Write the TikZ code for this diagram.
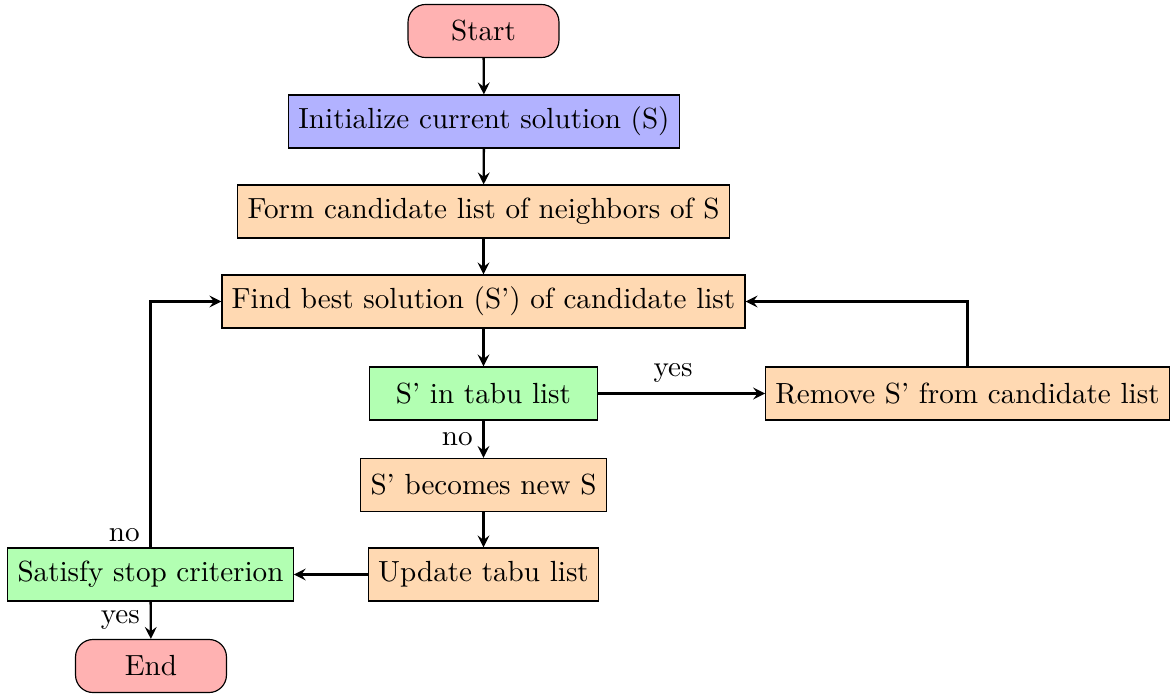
\documentclass[tikz,border=0pt]{standalone}
\usetikzlibrary{arrows}
\begin{document}
\begin{tikzpicture}[x=0.3432pt,y=-0.3432pt,
  base/.style={draw, minimum height=18.2pt, inner sep=3.33pt, font=\normalsize},
  term/.style={base, rounded corners=6pt, fill=red!30, minimum width=51.8pt},
  init/.style={base, fill=blue!30},
  proc/.style={base, fill=orange!30},
  decis/.style={base, fill=green!30},
  conn/.style={thick, -stealth}]
\useasboundingbox (0,0) rectangle (1173,693);
\node[term]  (start) at (483.5,31) {Start};
\node[init]  (init)  at (484,121.5) {Initialize current solution (S)};
\node[proc]  (form)  at (483.5,211.5) {Form candidate list of neighbors of S};
\node[proc]  (find)  at (483.5,301.5) {Find best solution (S') of candidate list};
\node[decis, minimum width=78pt] (tabu) at (483.5,393.5) {S' in tabu list};
\node[proc]  (remove) at (967.5,393.5) {Remove S' from candidate list};
\node[proc]  (becomes) at (483.5,485) {S' becomes new S};
\node[proc]  (update) at (483.5,574.5) {Update tabu list};
\node[decis] (stop) at (150.5,574.5) {Satisfy stop criterion};
\node[term]  (end) at (151,666) {End};
\draw[conn] (start) -- (init);
\draw[conn] (init) -- (form);
\draw[conn] (form) -- (find);
\draw[conn] (find) -- (tabu);
\draw[conn] (tabu) -- node[above, pos=0.45] {yes} (remove);
\draw[conn] (remove.north) |- (find.east);
\draw[conn] (tabu) -- node[left] {no} (becomes);
\draw[conn] (becomes) -- (update);
\draw[conn] (update) -- (stop);
\draw[conn] (stop.north) |- node[pos=0.025, left] {no} (find.west);
\draw[conn] (stop) -- node[left] {yes} (end);
\end{tikzpicture}
\end{document}
